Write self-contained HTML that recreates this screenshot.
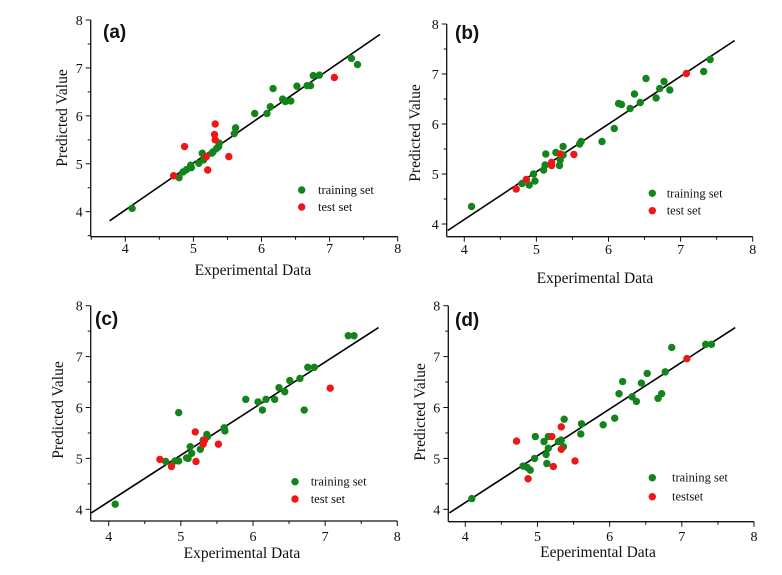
<!DOCTYPE html>
<html><head><meta charset="utf-8"><style>
body{margin:0;background:#fff}
svg{display:block}
text{font-family:"Liberation Serif",serif;fill:#111}
</style></head><body>
<svg id="c" width="782" height="575" viewBox="0 0 782 575"></svg>
<script>
// Panel (a)
const trainA_x=[4.10,4.79,4.85,4.90,4.96,4.97,5.08,5.13,5.15,5.27,5.29,5.34,5.37,5.38,5.60,5.62,5.90,6.08,6.13,6.17,6.31,6.35,6.43,6.52,6.67,6.72,6.76,6.85,7.32,7.41];
const trainA_y=[4.07,4.71,4.83,4.88,4.97,4.92,5.01,5.22,5.08,5.22,5.25,5.32,5.36,5.43,5.63,5.75,6.05,6.05,6.19,6.57,6.35,6.30,6.31,6.62,6.63,6.63,6.84,6.85,7.20,7.07];
const testA_x=[4.71,4.87,5.19,5.21,5.32,5.31,5.32,5.52,7.07];
const testA_y=[4.75,5.36,5.15,4.87,5.83,5.61,5.50,5.15,6.80];
// Panel (b)
const trainB_x=[4.10,4.80,4.90,4.96,4.98,5.10,5.12,5.13,5.27,5.32,5.33,5.37,5.37,5.62,5.60,5.91,6.08,6.14,6.18,6.30,6.36,6.44,6.52,6.66,6.71,6.77,6.85,7.32,7.41];
const trainB_y=[4.35,4.81,4.78,5.00,4.86,5.08,5.18,5.40,5.43,5.17,5.28,5.55,5.38,5.65,5.60,5.65,5.91,6.41,6.39,6.31,6.60,6.43,6.91,6.52,6.71,6.85,6.68,7.05,7.29];
const testB_x=[4.72,4.86,5.21,5.21,5.33,5.52,7.08];
const testB_y=[4.70,4.89,5.23,5.17,5.40,5.39,7.01];
// Panel (c)
const trainC_x=[4.09,4.79,4.92,4.97,4.97,5.08,5.10,5.13,5.15,5.27,5.31,5.36,5.37,5.61,5.60,5.90,6.07,6.13,6.18,6.30,6.36,6.44,6.51,6.65,6.71,6.76,6.85,7.32,7.40];
const trainC_y=[4.10,4.94,4.95,5.90,4.95,5.01,5.00,5.23,5.10,5.18,5.36,5.47,5.43,5.54,5.60,6.16,6.11,5.95,6.16,6.16,6.39,6.31,6.53,6.57,5.95,6.79,6.79,7.41,7.41];
const testC_x=[4.71,4.87,5.20,5.21,5.31,5.33,5.52,7.07];
const testC_y=[4.98,4.84,5.52,4.94,5.28,5.36,5.28,6.38];
// Panel (d)
const trainD_x=[4.09,4.80,4.86,4.90,4.96,4.97,5.09,5.12,5.13,5.15,5.15,5.29,5.33,5.36,5.37,5.61,5.60,5.91,6.07,6.13,6.18,6.31,6.37,6.44,6.52,6.67,6.72,6.77,6.86,7.33,7.41];
const trainD_y=[4.21,4.85,4.82,4.77,5.00,5.43,5.33,5.08,4.90,5.43,5.20,5.33,5.36,5.23,5.77,5.68,5.48,5.66,5.79,6.27,6.51,6.21,6.12,6.48,6.67,6.18,6.27,6.70,7.18,7.24,7.24];
const testD_x=[4.71,4.87,5.20,5.22,5.33,5.33,5.52,7.07];
const testD_y=[5.34,4.60,5.43,4.84,5.62,5.18,4.95,6.96];
// fit lines [x0,y0,x1,y1]
const fitA=[3.77,3.81,7.74,7.70];
const fitB=[3.77,3.87,7.75,7.67];
const fitC=[3.76,3.93,7.74,7.57];
const fitD=[3.78,3.93,7.74,7.57];
const xTicks=[4,5,6,7,8];
const yTicks=[4,5,6,7,8];

const panels=[
 {id:'a',tx:trainA_x,ty:trainA_y,sx:testA_x,sy:testA_y,fit:fitA,x0:3.5,y0:3.5,L:90.7,B:236.7,px:[125.3,397.7],py:[211.7,20],lab:[103,38],xt:[253,275],yt:[62,118],tb:253,leg:[301.7,190,318,207],test:'test set',xtitle:'Experimental Data'},
 {id:'b',tx:trainB_x,ty:trainB_y,sx:testB_x,sy:testB_y,fit:fitB,x0:3.75,y0:3.75,L:446.7,B:236.7,px:[464.3,752.7],py:[224,24],lab:[455,39],xt:[595,283],yt:[415,133],tb:254,leg:[652.3,193.3,666.7,210.7],test:'test set',xtitle:'Experimental Data'},
 {id:'c',tx:trainC_x,ty:trainC_y,sx:testC_x,sy:testC_y,fit:fitC,x0:3.75,y0:3.75,L:90.7,B:521,px:[108.7,397.3],py:[509.3,305.7],lab:[95,325],xt:[242,558],yt:[58,410],tb:541,leg:[295,481.7,310.7,499],test:'test set',xtitle:'Experimental Data'},
 {id:'d',tx:trainD_x,ty:trainD_y,sx:testD_x,sy:testD_y,fit:fitD,x0:3.76,y0:3.75,L:448.3,B:521.7,px:[465.3,754],py:[509.3,305.7],lab:[455,326],xt:[598,557],yt:[420,412],tb:541,leg:[652.3,477.7,672,496.7],test:'testset',xtitle:'Eeperimental Data'}
];
const NS='http://www.w3.org/2000/svg';
const svg=document.getElementById('c');
function mk(t,a,p){const e=document.createElementNS(NS,t);for(const k in a)e.setAttribute(k,a[k]);(p||svg).appendChild(e);return e;}
panels.forEach(P=>{
 const g=mk('g',{});
 
 
 const ux=(P.px[1]-P.px[0])/4, uy=(P.py[0]-P.py[1])/4;
 const X=v=>P.px[0]+(v-4)*ux, Y=v=>P.py[0]-(v-4)*uy;
 const right=X(8), top=Y(8);
 const xa=mk('line',{x1:P.L,y1:P.B,x2:right,y2:P.B,stroke:'#111','stroke-width':1.3},g);
 
 
 const ya=mk('line',{x1:P.L,y1:P.B,x2:P.L,y2:top,stroke:'#111','stroke-width':1.3},g);
 
 
 for(let v=3.5;v<=8.01;v+=0.5){
  const maj=Math.abs(v-Math.round(v))<0.01;
  if(v>=P.x0-0.01){const x=X(v);mk('line',{x1:x,y1:P.B,x2:x,y2:P.B+(maj?5:3),stroke:'#111','stroke-width':1},g);}
  if(v>=P.y0-0.01){const y=Y(v);mk('line',{x1:P.L,y1:y,x2:P.L-(maj?5:3),y2:y,stroke:'#111','stroke-width':1},g);}
 }
 xTicks.forEach(v=>{const t=mk('text',{x:X(v),y:P.tb,'text-anchor':'middle','font-size':14},g);t.textContent=v;
  
  });
 yTicks.forEach(v=>{const t=mk('text',{x:P.L-8,y:Y(v)+5,'text-anchor':'end','font-size':14},g);t.textContent=v;
  
  });
 const f=P.fit;
 const fl=mk('line',{x1:X(f[0]),y1:Y(f[1]),x2:X(f[2]),y2:Y(f[3]),stroke:'#000','stroke-width':1.6},g);
 
 
 P.tx.forEach((v,i)=>{const c=mk('circle',{cx:X(v),cy:Y(P.ty[i]),r:3.7,fill:'#13841b'},g);
  
  });
 P.sx.forEach((v,i)=>{const c=mk('circle',{cx:X(v),cy:Y(P.sy[i]),r:3.7,fill:'#f01616'},g);
  
  });
 const lb=mk('text',{x:P.lab[0],y:P.lab[1],'font-size':19,'font-weight':'bold',style:'font-family:"Liberation Sans",sans-serif'},g);lb.textContent='('+P.id+')';
 
 
 const xt=mk('text',{x:P.xt[0],y:P.xt[1],'text-anchor':'middle','font-size':15.5},g);xt.textContent=P.xtitle;
 
 
 const yt=mk('text',{x:0,y:0,'text-anchor':'middle','font-size':15.5,transform:`translate(${P.yt[0]+5},${P.yt[1]}) rotate(-90)`},g);yt.textContent='Predicted Value';
 
 
 const L=P.leg;
 const lg=mk('g',{},g);
 
 
 mk('circle',{cx:L[0],cy:L[1],r:3.7,fill:'#13841b'},lg);
 const t1=mk('text',{x:L[2],y:L[1]+4,'font-size':12.5},lg);t1.textContent='training set';
 
 
 mk('circle',{cx:L[0],cy:L[3],r:3.7,fill:'#f01616'},lg);
 const t2=mk('text',{x:L[2],y:L[3]+4,'font-size':12.5},lg);t2.textContent=P.test;
 
 
});
</script>
</body></html>
